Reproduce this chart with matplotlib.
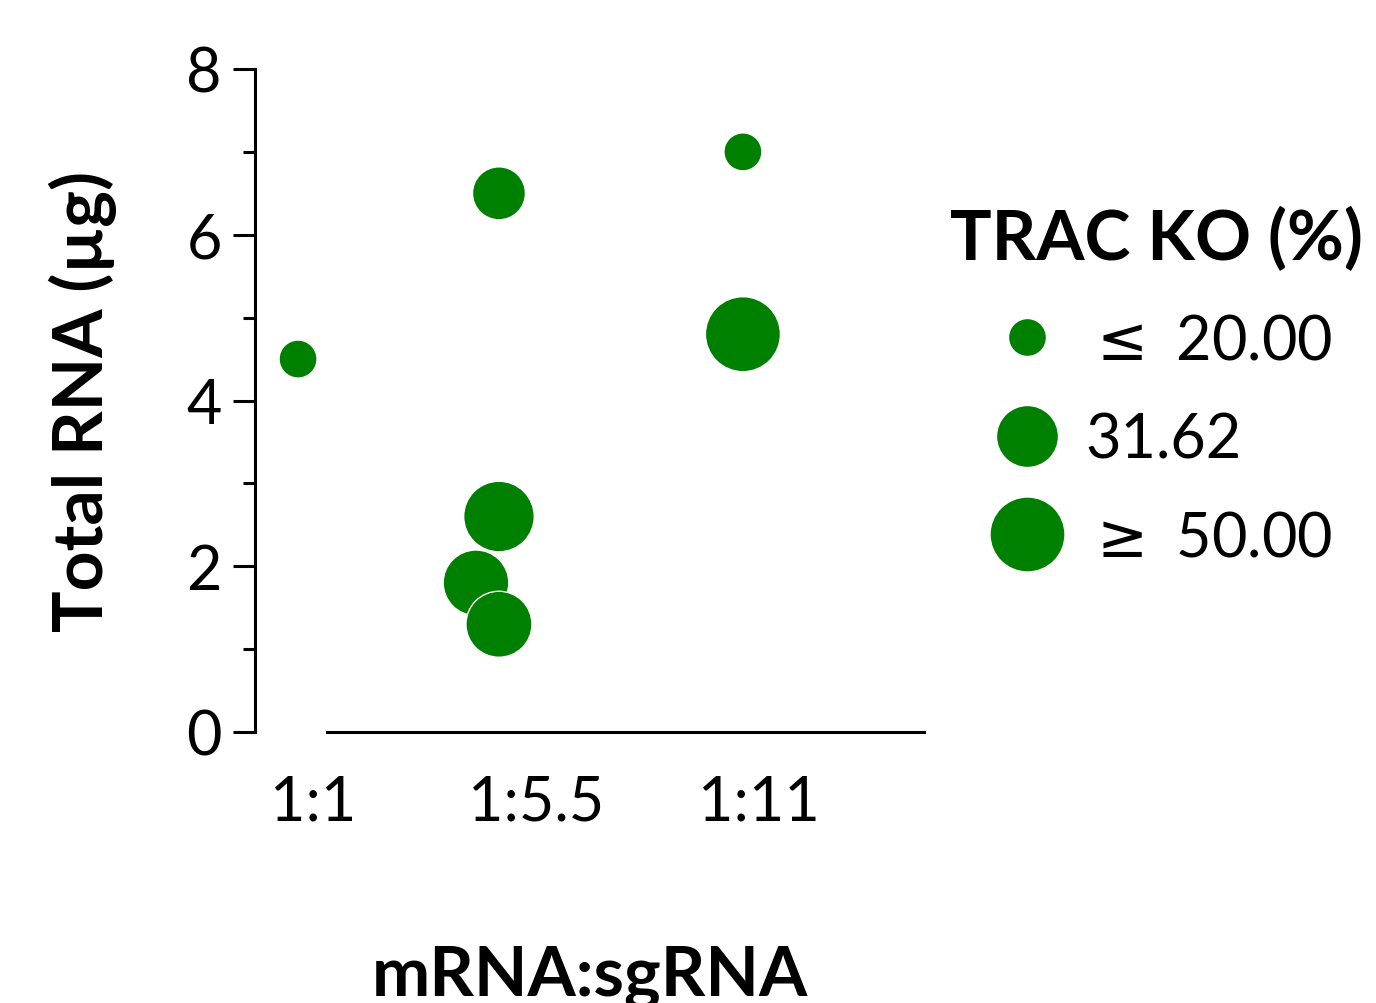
import numpy as np
import matplotlib
matplotlib.use("Agg")
import matplotlib.pyplot as plt
from matplotlib.lines import Line2D

plt.rcParams['font.family'] = ['Lato', 'DejaVu Sans']
plt.rcParams['mathtext.fontset'] = 'dejavusans'

# ---- data ----
categories = ["1:1", "1:5.5", "1:11"]
point_cat = [0, 1, 1, 1, 1, 2, 2]
point_jitter = [-0.067, -0.166, -0.166, -0.269, -0.166, -0.072, -0.072]
total_rna = [4.5, 6.5, 2.6, 1.8, 1.3, 7.0, 4.8]
trac_ko = [15.0, 26.6, 42.8, 35.9, 36.4, 18.0, 55.0]

legend_values = [20.0, 31.62, 50.0]
legend_labels = [r"$\leq$ 20.00", "31.62", r"$\geq$ 50.00"]
legend_diam_px = [38, 62, 75]   # marker diameter (px) at legend values

color = "#008000"
DPI = 100

def size_for(v):
    lv = np.log10(np.clip(v, legend_values[0], legend_values[-1]))
    d_px = np.interp(lv, np.log10(legend_values), legend_diam_px)
    d_pt = d_px * 72.0 / DPI
    return d_pt ** 2

fig = plt.figure(figsize=(13.76, 10.04), dpi=DPI)
ax = fig.add_axes([255/1376, 1-733/1004, (924-255)/1376, (733-70)/1004])

xs = np.array(point_cat) + np.array(point_jitter)
ax.scatter(xs, total_rna, s=[size_for(v) for v in trac_ko], c=color,
           edgecolors="white", linewidths=1.0, zorder=3, clip_on=False)

ax.set_xlim(-0.26, 2.74)
ax.set_ylim(0, 8)
ax.set_xticks(range(len(categories)))
ax.set_xticklabels(categories)
ax.set_yticks([0, 2, 4, 6, 8])
ax.set_yticks([1, 3, 5, 7], minor=True)

for s in ["top", "right"]:
    ax.spines[s].set_visible(False)
ax.spines["left"].set_linewidth(2.2)
ax.spines["bottom"].set_linewidth(2.2)
ax.spines["bottom"].set_bounds(0.063, 2.74)

ax.tick_params(axis="y", which="major", length=16, width=2.2, labelsize=44, pad=8)
ax.tick_params(axis="y", which="minor", length=8.6, width=2.2)
ax.tick_params(axis="x", which="major", length=0, labelsize=44, pad=30)

ax.set_ylabel("Total RNA (\u00b5g)", fontsize=50, fontweight="bold", labelpad=50)
ax.set_xlabel("mRNA:sgRNA", fontsize=50, fontweight="bold", labelpad=82)

handles = [Line2D([], [], linestyle="none", marker="o", color=color,
                  markeredgecolor="white", markeredgewidth=1.0,
                  markersize=np.sqrt(size_for(v))) for v in legend_values]
leg = ax.legend(handles, legend_labels, title="TRAC KO (%)", frameon=False,
                fontsize=44, title_fontproperties={"size": 50, "weight": "bold"},
                loc="upper left", bbox_to_anchor=(950/1376, 1-207/1004),
                bbox_transform=fig.transFigure, labelspacing=0.68,
                handlelength=1.5, handletextpad=0.2, borderpad=0, borderaxespad=0)

fig.savefig("out.png", dpi=DPI)
